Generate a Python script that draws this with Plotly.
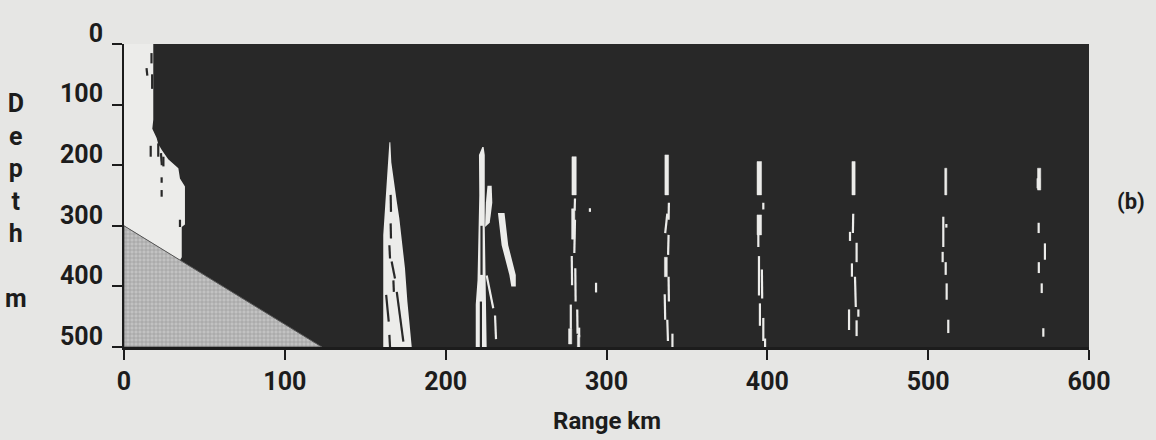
import plotly.graph_objects as go

# ---------------- data ----------------
range_ticks = [0, 100, 200, 300, 400, 500, 600]
depth_ticks = [0, 100, 200, 300, 400, 500]
range_labels = [str(v) for v in range_ticks]
depth_labels = [str(v) for v in depth_ticks]

# sloping bottom (range km, depth m)
bathy_range = [0, 123, 0]
bathy_depth = [300, 500, 500]

# direct-path (insonified) region near the source
near_range = [0, 18.2, 18.2, 17.6, 20.3, 21.3, 23.5, 25.5, 27.5, 31.7, 33.8, 34.8,
              37.9, 37.9, 35.9, 35.9, 34.8, 0]
near_depth = [0, 0, 125, 140, 155, 165, 175, 182, 190, 200, 205, 222,
              235, 298, 302, 352, 357, 300]

# first convergence zone envelope
cz1_range = [165.0, 164.2, 163.5, 162.3, 161.2, 161.2, 178.9, 177.4, 176.2, 174.7,
             172.6, 171.2, 169.6, 167.0, 166.2, 165.6]
cz1_depth = [162, 195, 216, 260, 315, 500, 500, 458, 425, 370,
             315, 288, 260, 216, 195, 162]

# second convergence zone: main strip, upper branch, diagonal branch
cz2_range = [222.8, 220.7, 220.9, 220.5, 219.8, 218.7, 218.7, 225.5, 225.0, 224.8,
             224.3, 224.3, 223.6]
cz2_depth = [170, 183, 249, 320, 390, 430, 502, 502, 430, 380, 300, 183, 170]
cz2a_range = [226.0, 228.6, 229.0, 227.4, 224.5, 225.0]
cz2a_depth = [234, 234, 262, 295, 302, 262]
cz2b_range = [232.5, 234.8, 239.6, 240.8, 243.6, 243.6, 238.9, 236.6]
cz2b_depth = [279, 332, 381, 400, 400, 381, 332, 279]

# solid returns of the later zones: range left/right (km), depth top/bottom (m)
blk_r0 = [278.5, 278.3, 276.4, 281.9, 336.3, 336.0, 393.6, 393.6, 452.6, 510.3, 568.0, 567.6]
blk_r1 = [281.2, 280.3, 278.4, 283.4, 338.6, 337.8, 396.4, 396.4, 454.6, 511.6, 570.0, 569.6]
blk_d0 = [186, 272, 470, 480, 183, 352, 194, 282, 194, 205, 205, 222]
blk_d1 = [249, 322, 495, 500, 249, 384, 249, 315, 249, 249, 241, 238]

# thin returns: (range, depth) at top and bottom of each thread
thr_r0 = [225.5, 230.7,
          280.4, 280.4, 278.4, 280.6, 281.8, 277.8, 283.0, 289.7, 293.5,
          338.8, 337.8, 338.6, 338.6, 336.2, 337.8, 341.0,
          397.5, 394.4, 394.8, 396.6, 395.4, 397.5, 398.6,
          453.4, 451.4, 455.5, 452.6, 454.5, 450.8, 456.6, 455.5,
          509.4, 511.3, 509.0, 510.9, 511.5, 512.5,
          568.7, 572.6, 568.8, 570.6, 571.6]
thr_d0 = [382, 448,
          255, 290, 350, 370, 438, 430, 468, 271, 394,
          262, 280, 315, 384, 413, 455, 478,
          262, 315, 350, 372, 428, 452, 486,
          280, 310, 328, 362, 384, 438, 438, 456,
          285, 297, 343, 360, 395, 455,
          295, 329, 360, 395, 469]
thr_r1 = [229.6, 231.3,
          280.2, 280.0, 278.6, 280.8, 282.0, 277.8, 283.0, 289.7, 293.5,
          338.6, 336.5, 338.3, 338.8, 336.5, 338.2, 341.0,
          397.5, 394.4, 394.8, 396.8, 395.4, 397.5, 398.6,
          453.2, 451.4, 455.5, 452.6, 455.0, 450.8, 456.6, 455.5,
          509.4, 511.3, 509.0, 510.9, 511.5, 512.5,
          568.7, 572.6, 568.8, 570.6, 571.6]
thr_d1 = [436, 487,
          275, 345, 398, 425, 478, 470, 484, 277, 410,
          290, 312, 348, 425, 455, 490, 500,
          273, 335, 415, 420, 465, 490, 500,
          312, 325, 360, 384, 434, 472, 450, 482,
          335, 303, 360, 381, 422, 477,
          312, 356, 378, 411, 483]

# shadowed gaps inside the bright zones and specks in the near region
gap_r0 = [165.8, 165.8, 165.0, 166.4, 167.5, 163.0, 169.6, 165.0, 222.3, 221.9,
          17.1, 14.0, 17.5, 16.6, 21.3, 23.0, 24.5, 23.4, 23.4, 34.8]
gap_d0 = [249, 296, 332, 359, 390, 414, 409, 480, 300, 425,
          15, 40, 50, 168, 164, 180, 186, 220, 241, 290]
gap_r1 = [166.0, 166.0, 165.4, 168.5, 167.8, 164.6, 173.7, 165.4, 222.3, 221.9,
          17.1, 14.5, 17.5, 16.6, 21.3, 23.5, 24.5, 23.4, 23.4, 34.8]
gap_d1 = [277, 321, 354, 387, 409, 458, 491, 500, 381, 500,
          32, 52, 74, 186, 186, 200, 202, 229, 252, 302]

# ---------------- style ----------------
PAPER = "#e6e6e4"
DARK = "#282828"
LIGHT = "#ececea"
INK = "#1c1c1c"
FONT = "Roboto, Lato, DejaVu Sans, sans-serif"


def segs(r0, d0, r1, d1):
    xs, ys = [], []
    for a, b, c, d in zip(r0, d0, r1, d1):
        xs += [a, c, None]
        ys += [b, d, None]
    return xs, ys


def rects(r0, r1, d0, d1):
    xs, ys = [], []
    for a, b, c, d in zip(r0, r1, d0, d1):
        xs += [a, b, b, a, a, None]
        ys += [c, c, d, d, c, None]
    return xs, ys


fig = go.Figure()


def poly(xr, yd, color, **kw):
    fig.add_trace(go.Scatter(x=xr + [xr[0]], y=yd + [yd[0]], mode="lines", fill="toself",
                             fillcolor=color, line=dict(width=0, color=color),
                             hoverinfo="skip", showlegend=False, **kw))


poly(near_range, near_depth, LIGHT)
fig.add_trace(go.Scatter(x=bathy_range + [bathy_range[0]], y=bathy_depth + [bathy_depth[0]],
                         mode="lines", fill="toself", line=dict(width=1, color="#555555"),
                         fillcolor="#b4b4b4",
                         fillpattern=dict(shape="+", size=4, solidity=0.3,
                                          fgcolor="#707070", bgcolor="#c2c2c2"),
                         hoverinfo="skip", showlegend=False))
poly(cz1_range, cz1_depth, LIGHT)
poly(cz2_range, cz2_depth, LIGHT)
poly(cz2a_range, cz2a_depth, LIGHT)
poly(cz2b_range, cz2b_depth, LIGHT)

bx, by = rects(blk_r0, blk_r1, blk_d0, blk_d1)
fig.add_trace(go.Scatter(x=bx, y=by, mode="lines", fill="toself", fillcolor=LIGHT,
                         line=dict(width=0.5, color=LIGHT), hoverinfo="skip", showlegend=False))

tx, ty = segs(thr_r0, thr_d0, thr_r1, thr_d1)
fig.add_trace(go.Scatter(x=tx, y=ty, mode="lines", line=dict(width=2.2, color=LIGHT),
                         hoverinfo="skip", showlegend=False))

gx, gy = segs(gap_r0, gap_d0, gap_r1, gap_d1)
fig.add_trace(go.Scatter(x=gx, y=gy, mode="lines", line=dict(width=2.2, color=DARK),
                         hoverinfo="skip", showlegend=False))

tickfont = dict(family=FONT, size=25, color=INK, weight="bold")

fig.update_xaxes(range=[0, 600], tickvals=range_ticks, ticktext=range_labels,
                 showgrid=False, zeroline=False, showline=True, linecolor=INK, linewidth=3,
                 ticks="outside", ticklen=10, tickwidth=2, tickcolor=INK,
                 tickfont=tickfont, ticklabelstandoff=0)
fig.update_yaxes(range=[500, 0], tickvals=depth_ticks, ticktext=depth_labels,
                 showgrid=False, zeroline=False, showline=True, linecolor=INK, linewidth=2,
                 ticks="outside", ticklen=10, tickwidth=2, tickcolor=INK,
                 tickfont=tickfont, ticklabelshift=11, ticklabelstandoff=4)

fig.add_annotation(text="D<br>e<br>p<br>t<br>h<br><br>m", xref="paper", yref="paper",
                   x=0, xshift=-108, y=0.482, xanchor="center", yanchor="middle",
                   showarrow=False, font=dict(family=FONT, size=25, color=INK, weight="bold"))
fig.add_annotation(text="Range km", xref="paper", yref="paper", x=0.5, y=-0.245,
                   xanchor="center", yanchor="middle", showarrow=False,
                   font=dict(family=FONT, size=24, color=INK, weight="bold"))
fig.add_annotation(text="(b)", xref="paper", yref="paper", x=1.0435, y=0.48,
                   xanchor="center", yanchor="middle", showarrow=False,
                   font=dict(family=FONT, size=22, color=INK, weight="bold"))

fig.update_layout(width=1156, height=440, paper_bgcolor=PAPER, plot_bgcolor=DARK,
                  margin=dict(l=124, r=67, t=44, b=93), showlegend=False)

fig.write_html("out.html", config={"displayModeBar": False},
               post_script="document.body.style.margin='0';"
                           "document.body.style.background='#e6e6e4';")
